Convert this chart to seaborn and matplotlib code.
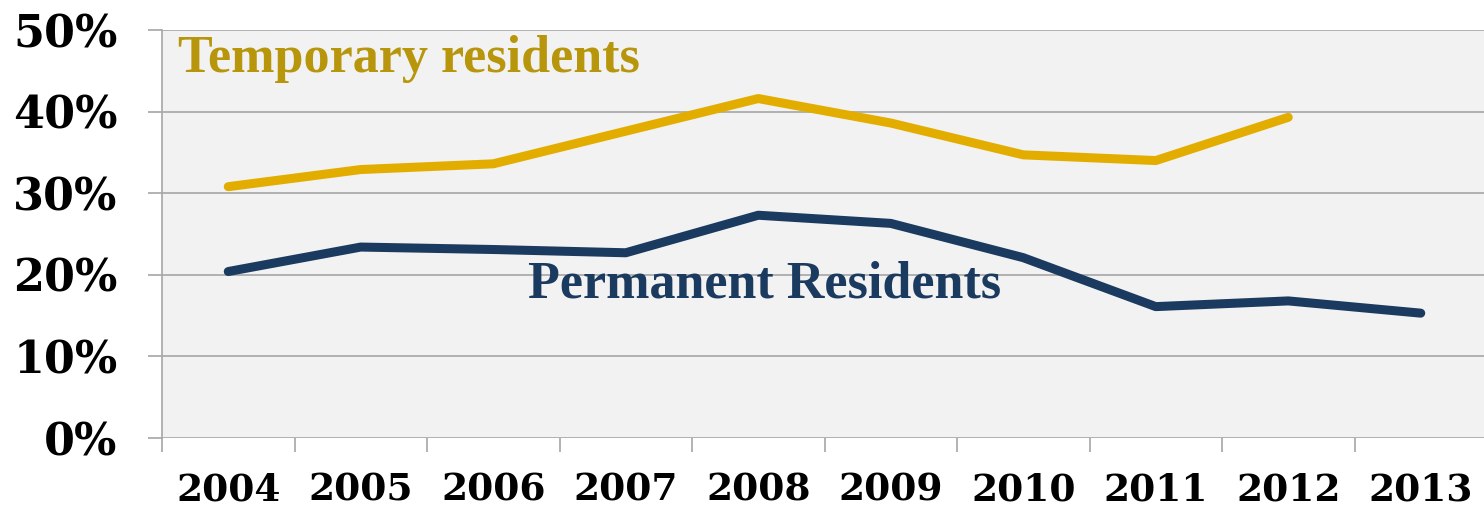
import matplotlib
matplotlib.use("Agg")
import matplotlib.pyplot as plt
import numpy as np
import pandas as pd
import seaborn as sns
from matplotlib.ticker import FixedLocator, PercentFormatter

years = ["2004", "2005", "2006", "2007", "2008", "2009", "2010", "2011", "2012", "2013"]
temporary = [0.308, 0.329, 0.336, 0.376, 0.416, 0.386, 0.347, 0.340, 0.393, np.nan]
permanent = [0.204, 0.234, 0.231, 0.227, 0.273, 0.263, 0.221, 0.161, 0.168, 0.153]

GOLD = "#E3AD00"
GOLD_TEXT = "#B8960C"
NAVY = "#1B3A5F"
GRID = "#A6A6A6"

sns.set_theme(style="white")

df = pd.DataFrame({"pos": range(len(years)), "Temporary": temporary, "Permanent": permanent})

fig = plt.figure(figsize=(14.84, 5.14), dpi=100)
ax = fig.add_axes([162 / 1484, 76 / 514, 1325 / 1484, 408 / 514])
ax.set_facecolor("#F2F2F2")

sns.lineplot(data=df, x="pos", y="Temporary", ax=ax, color=GOLD, linewidth=6.5, solid_capstyle="round")
sns.lineplot(data=df, x="pos", y="Permanent", ax=ax, color=NAVY, linewidth=6.5, solid_capstyle="round")

ax.set_xlim(-0.5, len(years) - 0.5)
ax.set_ylim(0, 0.5)

ax.yaxis.set_major_locator(FixedLocator([0, 0.1, 0.2, 0.3, 0.4, 0.5]))
ax.yaxis.set_major_formatter(PercentFormatter(1.0, decimals=0))
ax.grid(axis="y", color=GRID, linewidth=1.2)
ax.set_axisbelow(True)

ax.set_xticks(range(len(years)))
ax.set_xticklabels(years)
ax.xaxis.set_minor_locator(FixedLocator(np.arange(-0.5, len(years), 1.0)))

ax.tick_params(axis="x", which="major", length=0, pad=24)
ax.tick_params(axis="x", which="minor", length=10, width=1.2, color=GRID, direction="out", bottom=True)
ax.tick_params(axis="y", length=10, width=1.2, color=GRID, direction="out", left=True, pad=22)

for lab in ax.get_xticklabels():
    lab.set_fontfamily("DejaVu Serif")
    lab.set_fontweight("bold")
    lab.set_fontsize(27)
    lab.set_color("black")
for lab in ax.get_yticklabels():
    lab.set_fontfamily("DejaVu Serif")
    lab.set_fontweight("bold")
    lab.set_fontsize(32)
    lab.set_color("black")

for side in ["top", "right", "bottom"]:
    ax.spines[side].set_visible(False)
ax.spines["left"].set_color(GRID)
ax.spines["left"].set_linewidth(1.2)

ax.set_xlabel("")
ax.set_ylabel("")

ax.text(-0.38, 0.448, "Temporary residents", color=GOLD_TEXT, fontsize=37.5,
        fontfamily="Liberation Serif", fontweight="bold", va="baseline", ha="left")
ax.text(2.26, 0.172, "Permanent Residents", color=NAVY, fontsize=37.5,
        fontfamily="Liberation Serif", fontweight="bold", va="baseline", ha="left")

fig.savefig("out.png", dpi=100, facecolor="white")
